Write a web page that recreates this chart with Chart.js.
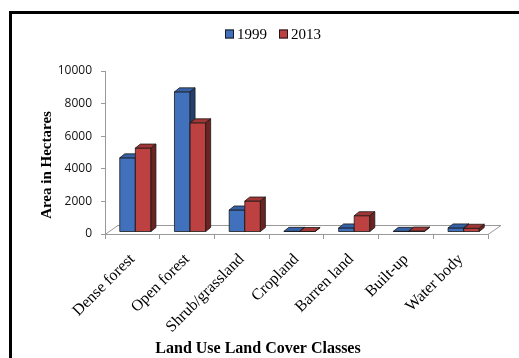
<!DOCTYPE html>
<html>
<head>
<meta charset="utf-8">
<script src="https://cdn.jsdelivr.net/npm/chart.js@4/dist/chart.umd.min.js"></script>
<style>
  html, body { margin: 0; padding: 0; background: #fff; }
  canvas { display: block; }
</style>
</head>
<body>
<canvas id="lulc" width="519" height="358"></canvas>
<script>
const classes = ['Dense forest', 'Open forest', 'Shrub/grassland', 'Cropland', 'Barren land', 'Built-up', 'Water body'];
const area1999 = [4550, 8600, 1350, 40, 250, 40, 250];
const area2013 = [5150, 6700, 1900, 30, 1000, 60, 230];
const yTicks = [0, 2000, 4000, 6000, 8000, 10000];

// face colours for the fake 3D look
const shades = {
    '1999': { front: '#4171BD', top: '#3761A6', side: '#243F6B' },
    '2013': { front: '#BD4140', top: '#A23634', side: '#6C2322' }
};

const depth = { dx: 5, dy: -4 };       // bar depth
const floorDepth = { dx: 13, dy: -9 }; // floor depth
const shift = { dx: 3, dy: -2 };       // bars sit a little into the floor

function drawBar3d(c, bar, col) {
    const l = bar.x - bar.width / 2;
    const r = bar.x + bar.width / 2;
    const t = bar.y;
    const b = bar.base;
    c.strokeStyle = '#1b1b1b';
    c.lineWidth = 0.8;
    c.lineJoin = 'round';
    // front
    c.fillStyle = col.front;
    c.fillRect(l, t, r - l, b - t);
    c.strokeRect(l, t, r - l, b - t);
    // top
    c.beginPath();
    c.moveTo(l, t);
    c.lineTo(l + depth.dx, t + depth.dy);
    c.lineTo(r + depth.dx, t + depth.dy);
    c.lineTo(r, t);
    c.closePath();
    c.fillStyle = col.top;
    c.fill();
    c.stroke();
    // side
    c.beginPath();
    c.moveTo(r, t);
    c.lineTo(r + depth.dx, t + depth.dy);
    c.lineTo(r + depth.dx, b + depth.dy);
    c.lineTo(r, b);
    c.closePath();
    c.fillStyle = col.side;
    c.fill();
    c.stroke();
}

const frame3d = {
    id: 'frame3d',
    beforeDraw(chart) {
        const c = chart.ctx;
        c.save();
        c.fillStyle = '#fff';
        c.fillRect(0, 0, chart.width, chart.height);
        c.strokeStyle = '#000';
        c.lineWidth = 3;
        c.strokeRect(10.5, 12.5, 530, 360);
        c.restore();
    },
    beforeDatasetsDraw(chart) {
        const c = chart.ctx;
        const a = chart.chartArea;
        c.save();
        c.strokeStyle = '#9a9a9a';
        c.lineWidth = 1;
        c.beginPath();
        c.moveTo(a.left, a.bottom + 0.5);
        c.lineTo(a.left + floorDepth.dx, a.bottom + floorDepth.dy + 0.5);
        c.lineTo(a.right + floorDepth.dx, a.bottom + floorDepth.dy + 0.5);
        c.lineTo(a.right, a.bottom + 0.5);
        c.stroke();
        c.restore();
    },
    // bars are painted as 3D blocks in afterDatasetsDraw, in category order
    beforeDatasetDraw() {
        return false;
    },
    afterDatasetsDraw(chart) {
        const c = chart.ctx;
        const metas = chart.data.datasets.map((d, i) => chart.getDatasetMeta(i));
        c.save();
        c.translate(shift.dx, shift.dy);
        classes.forEach((_, k) => {
            metas.forEach((meta, i) => {
                drawBar3d(c, meta.data[k], shades[chart.data.datasets[i].label]);
            });
        });
        c.restore();
    },
    afterDraw(chart) {
        const c = chart.ctx;
        c.save();
        // legend
        c.font = '15px "Liberation Serif", "Times New Roman", serif';
        c.textBaseline = 'middle';
        const items = chart.data.datasets.map(d => d.label);
        const box = 9, gap = 3, spacing = 12;
        let total = 0;
        items.forEach((t, i) => {
            total += box + gap + c.measureText(t).width + (i ? spacing : 0);
        });
        let x = 273 - total / 2;
        const ly = 34;
        items.forEach((t, i) => {
            if (i) x += spacing;
            c.fillStyle = shades[t].front;
            c.fillRect(x, ly - box / 2, box, box);
            c.strokeStyle = '#1b1b1b';
            c.lineWidth = 1;
            c.strokeRect(x + 0.5, ly - box / 2 + 0.5, box - 1, box - 1);
            x += box + gap;
            c.fillStyle = '#000';
            c.textAlign = 'left';
            c.fillText(t, x, ly + 1);
            x += c.measureText(t).width;
        });
        // axis titles
        c.fillStyle = '#000';
        c.textAlign = 'center';
        c.font = 'bold 16px "Liberation Serif", "Times New Roman", serif';
        c.fillText('Land Use Land Cover Classes', 258, 349);
        c.font = 'bold 15px "Liberation Serif", "Times New Roman", serif';
        c.translate(47, 165);
        c.rotate(-Math.PI / 2);
        c.fillText('Area in Hectares', 0, 0);
        c.restore();
    }
};

const chart = new Chart(document.getElementById('lulc').getContext('2d'), {
    type: 'bar',
    data: {
        labels: classes,
        datasets: [
            {
                label: '1999',
                data: area1999,
                backgroundColor: shades['1999'].front,
                borderColor: '#1b1b1b',
                borderWidth: 0.8
            },
            {
                label: '2013',
                data: area2013,
                backgroundColor: shades['2013'].front,
                borderColor: '#1b1b1b',
                borderWidth: 0.8
            }
        ]
    },
    options: {
        responsive: false,
        animation: false,
        layout: { padding: { left: 0, top: 71, right: 31, bottom: 0 } },
        categoryPercentage: 0.57,
        barPercentage: 1.0,
        plugins: {
            legend: { display: false },
            tooltip: { enabled: false }
        },
        scales: {
            x: {
                afterFit: s => { s.height = 124; },
                grid: { drawOnChartArea: false, offset: true, color: '#9a9a9a', tickLength: 5 },
                border: { color: '#9a9a9a' },
                ticks: {
                    color: '#000',
                    font: { family: '"Liberation Serif", "Times New Roman", serif', size: 16 },
                    minRotation: 45,
                    maxRotation: 45,
                    autoSkip: false,
                    padding: 11
                }
            },
            y: {
                min: yTicks[0],
                max: yTicks[yTicks.length - 1],
                afterFit: s => { s.width = 105; },
                afterBuildTicks: s => { s.ticks = yTicks.map(v => ({ value: v })); },
                grid: { drawOnChartArea: false, color: '#9a9a9a', tickLength: 4 },
                border: { color: '#9a9a9a' },
                ticks: {
                    color: '#111',
                    font: { family: '"Open Sans", "Liberation Sans", sans-serif', size: 12 },
                    padding: 9,
                    callback: v => String(v)
                }
            }
        }
    },
    plugins: [frame3d]
});
</script>
</body>
</html>
